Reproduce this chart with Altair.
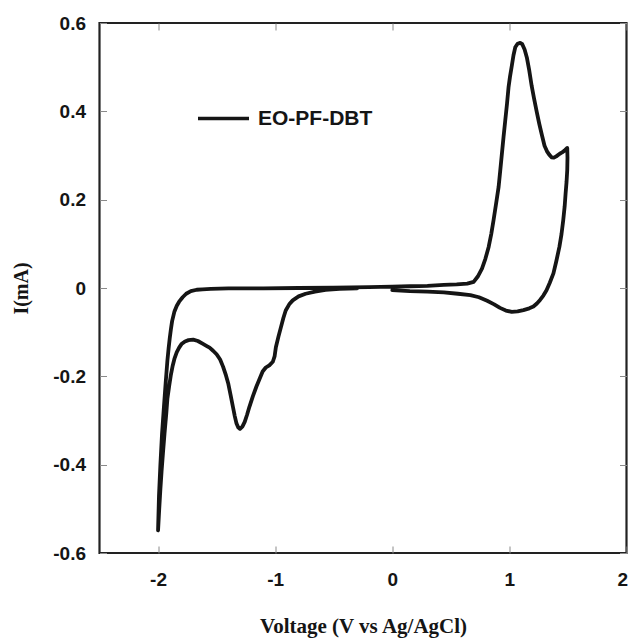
import altair as alt
import pandas as pd

# Cyclic voltammogram path (in scan order)
V = [0.00, 0.15, 0.30, 0.44, 0.56, 0.667, 0.74, 0.81, 0.87, 0.92, 0.97, 1.02, 1.07, 1.12,
     1.17, 1.205, 1.235, 1.262, 1.29, 1.317, 1.345, 1.376, 1.40, 1.427, 1.445, 1.46, 1.472,
     1.48, 1.488, 1.494, 1.496, 1.494,
     1.47, 1.45, 1.43, 1.40, 1.38, 1.36, 1.34, 1.32, 1.30, 1.277, 1.255, 1.234, 1.21, 1.19,
     1.17, 1.149, 1.13, 1.11, 1.092, 1.07, 1.05, 1.035, 1.02, 1.005, 0.993, 0.98, 0.965,
     0.95, 0.936, 0.922, 0.908, 0.886, 0.865, 0.845, 0.823, 0.795, 0.766, 0.73, 0.695,
     0.64, 0.55, 0.44, 0.30, 0.15, 0.00, -0.20, -0.50, -0.80, -1.10, -1.40, -1.55, -1.62,
     -1.67, -1.72, -1.76, -1.79, -1.82, -1.84, -1.86, -1.88, -1.89, -1.90, -1.91, -1.92,
     -1.935, -1.95, -1.966, -1.98, -1.992, -2.00,
     -1.99, -1.98, -1.97, -1.957, -1.945, -1.93, -1.92, -1.905, -1.89, -1.875, -1.86,
     -1.84, -1.82, -1.80, -1.77, -1.74, -1.70, -1.66, -1.62, -1.58, -1.56, -1.53, -1.50,
     -1.47, -1.445, -1.42, -1.40, -1.38, -1.36, -1.345, -1.33, -1.315, -1.30, -1.28,
     -1.26, -1.24, -1.22, -1.19, -1.16, -1.13, -1.107, -1.08, -1.05, -1.02, -1.005, -0.994,
     -0.972, -0.95, -0.93, -0.91, -0.88, -0.85, -0.80, -0.74, -0.66, -0.57, -0.45, -0.30]
I = [-0.005, -0.007, -0.008, -0.010, -0.013, -0.016, -0.021, -0.029, -0.037, -0.045,
     -0.051, -0.054, -0.053, -0.050, -0.046, -0.042, -0.035, -0.027, -0.017, -0.005, 0.012,
     0.033, 0.060, 0.093, 0.122, 0.154, 0.185, 0.214, 0.240, 0.267, 0.295, 0.317,
     0.311, 0.307, 0.304, 0.298, 0.295, 0.296, 0.302, 0.310, 0.322, 0.347, 0.372, 0.398,
     0.430, 0.458, 0.492, 0.522, 0.540, 0.552, 0.555, 0.553, 0.545, 0.527, 0.502, 0.478,
     0.455, 0.418, 0.380, 0.342, 0.304, 0.266, 0.229, 0.190, 0.154, 0.122, 0.093, 0.066,
     0.044, 0.026, 0.014, 0.010, 0.008, 0.007, 0.005, 0.004, 0.003, 0.002, 0.001, 0.000,
     -0.001, -0.001, -0.002, -0.003, -0.004, -0.007, -0.013, -0.021, -0.031, -0.040,
     -0.053, -0.075, -0.093, -0.113, -0.137, -0.164, -0.215, -0.270, -0.330, -0.400,
     -0.470, -0.549,
     -0.500, -0.455, -0.415, -0.370, -0.330, -0.285, -0.250, -0.222, -0.196, -0.176,
     -0.160, -0.145, -0.135, -0.127, -0.121, -0.118, -0.117, -0.120, -0.126, -0.132,
     -0.135, -0.142, -0.150, -0.162, -0.178, -0.198, -0.217, -0.243, -0.270, -0.290,
     -0.307, -0.316, -0.319, -0.314, -0.303, -0.287, -0.269, -0.245, -0.223, -0.204,
     -0.189, -0.180, -0.175, -0.167, -0.155, -0.134, -0.110, -0.088, -0.068, -0.051,
     -0.037, -0.028, -0.019, -0.013, -0.008, -0.004, -0.002, -0.001]
series_name = "EO-PF-DBT"

x_ticks = [-2, -1, 0, 1, 2]
y_ticks = [-0.6, -0.4, -0.2, 0, 0.2, 0.4, 0.6]

df = pd.DataFrame({"V": V, "I": I, "k": list(range(len(V))), "s": [series_name] * len(V)})

W, H = 527, 530
xs = alt.Scale(domain=[-2.5, 2], nice=False, zero=False)
ys = alt.Scale(domain=[-0.6, 0.6], nice=False, zero=False)

LF = "Liberation Sans"
TF = "Liberation Serif"
INK = "#151515"

x_lbl = "datum.value < 0 ? '-' + format(-datum.value, 'd') : format(datum.value, 'd')"
y_lbl = "datum.value == 0 ? '0' : (datum.value < 0 ? '-' : '') + format(abs(datum.value), '.1f')"

main = alt.Chart(df).mark_line(strokeWidth=3.8, strokeJoin="round", strokeCap="round").encode(
    x=alt.X("V:Q", scale=xs, axis=alt.Axis(
        orient="bottom", values=x_ticks, ticks=False, tickSize=0, domain=False, grid=False,
        labelExpr=x_lbl, labelFont=LF, labelFontSize=19, labelFontWeight="bold",
        labelColor=INK, labelPadding=17, labelFlush=True, labelFlushOffset=1,
        title="Voltage (V vs Ag/AgCl)", titleFont=TF, titleFontSize=21, titleFontWeight="bold",
        titleColor=INK, titleY=79, titleBaseline="alphabetic")),
    y=alt.Y("I:Q", scale=ys, axis=alt.Axis(
        orient="left", values=y_ticks, ticks=False, tickSize=0, domain=False, grid=False,
        labelExpr=y_lbl, labelFont=LF, labelFontSize=19, labelFontWeight="bold",
        labelColor=INK, labelPadding=14,
        title="I(mA)", titleFont=TF, titleFontSize=20, titleFontWeight="bold",
        titleColor=INK, titleX=-72, titleY=H / 2, titleAngle=270,
        titleBaseline="alphabetic", titleAlign="center")),
    order=alt.Order("k:Q"),
    color=alt.Color("s:N", scale=alt.Scale(range=[INK]), legend=alt.Legend(
        orient="none", legendX=96.5, legendY=68, title=None, padding=0,
        symbolType="stroke", symbolSize=2601, symbolStrokeWidth=3.3,
        labelFont=LF, labelFontSize=21, labelFontWeight="bold", labelColor=INK,
        labelOffset=7)),
)

tick_style = dict(labels=False, domain=False, grid=False, title=None, tickSize=7,
                  tickColor="#8a8a8a", tickWidth=1)

inner_a = alt.Chart(df).mark_line(opacity=0).encode(
    x=alt.X("V:Q", scale=xs, axis=alt.Axis(orient="top", offset=-H, values=x_ticks, **tick_style)),
    y=alt.Y("I:Q", scale=ys, axis=alt.Axis(orient="right", offset=-W, values=y_ticks, **tick_style)),
    order=alt.Order("k:Q"),
)
inner_b = alt.Chart(df).mark_line(opacity=0).encode(
    x=alt.X("V:Q", scale=xs, axis=alt.Axis(orient="bottom", offset=-H, values=x_ticks, **tick_style)),
    y=alt.Y("I:Q", scale=ys, axis=alt.Axis(orient="left", offset=-W, values=y_ticks, **tick_style)),
    order=alt.Order("k:Q"),
)

chart = alt.layer(main, inner_a, inner_b).resolve_axis(
    x="independent", y="independent"
).properties(
    width=W, height=H,
    autosize=alt.AutoSizeParams(type="none"),
    padding={"left": 91.5, "top": 15, "right": 1.5, "bottom": 85},
).configure(background="white").configure_view(stroke="#222222", strokeWidth=2.2)

chart.save("out.html", embed_options={"renderer": "svg", "actions": False})
